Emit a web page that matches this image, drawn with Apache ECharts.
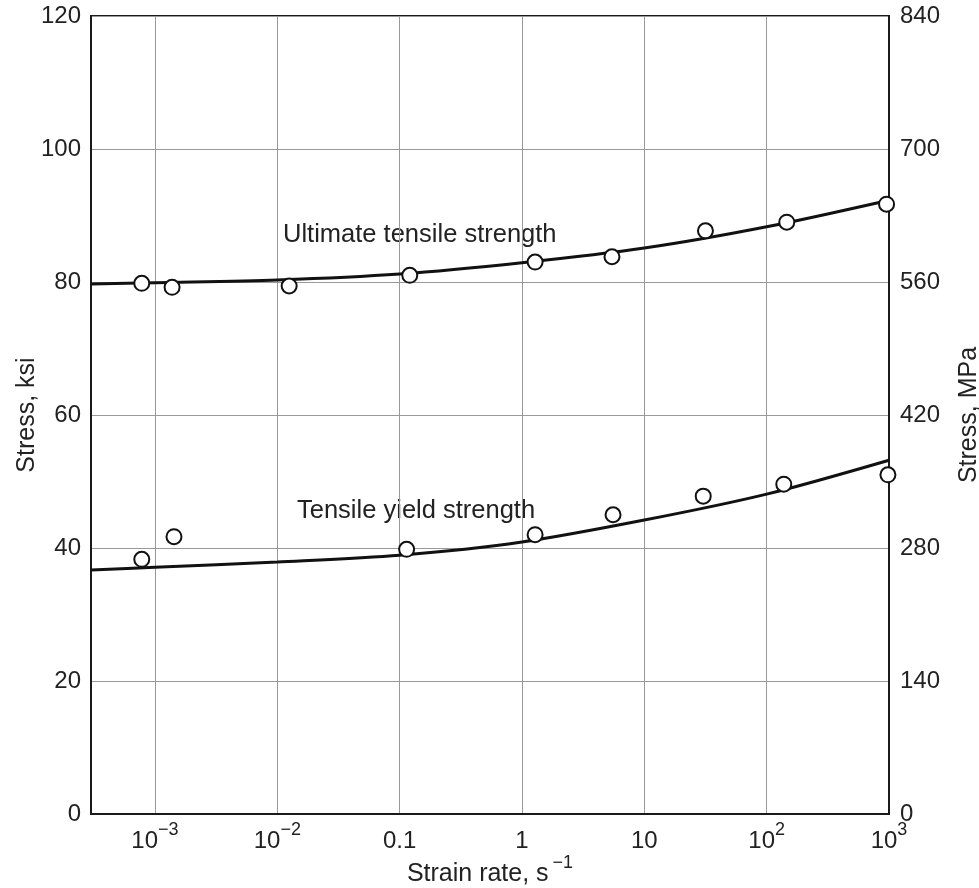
<!DOCTYPE html>
<html>
<head>
<meta charset="utf-8">
<script src="https://cdn.jsdelivr.net/npm/echarts@6/dist/echarts.min.js"></script>
<style>
html,body{margin:0;padding:0;background:#fff;}
#chart{width:979px;height:888px;}
</style>
</head>
<body>
<div id="chart"></div>
<script>
// Measured data points (strain rate in 1/s, stress in ksi)
const utsRate = [7.8e-4, 1.38e-3, 0.0125, 0.121, 1.28, 5.44, 31.6, 146, 955];
const utsStress = [79.8, 79.2, 79.4, 81.0, 83.0, 83.8, 87.7, 89.0, 91.7];
const ysRate = [7.8e-4, 1.43e-3, 0.114, 1.28, 5.55, 30.3, 138, 980];
const ysStress = [38.3, 41.7, 39.8, 42.0, 45.0, 47.8, 49.6, 51.0];

// Fitted curves
const fitRate = [3e-4, 1e-3, 1e-2, 0.1, 1, 10, 100, 1000];
const utsFit = [79.7, 79.9, 80.3, 81.2, 82.9, 85.1, 88.3, 92.3];
const ysFit = [36.7, 37.1, 37.9, 38.9, 40.9, 44.2, 48.1, 53.2];

// Axis ticks
const ksiTicks = [0, 20, 40, 60, 80, 100, 120];
const mpaTicks = [0, 140, 280, 420, 560, 700, 840];

const FONT = 'Liberation Sans, Arial, sans-serif';
const TXT = '#222';

function pairs(xs, ys) { return xs.map((x, i) => [x, ys[i]]); }

function xLabel(v) {
  const p = Math.round(Math.log10(v));
  if (p === -1) return '{b|0.1}';
  if (p === 0) return '{b|1}';
  if (p === 1) return '{b|10}';
  const sup = p < 0 ? '\u2212' + (-p) : String(p);
  return '{b|10}{s|' + sup + '}';
}

const chart = echarts.init(document.getElementById('chart'), null, {renderer: 'canvas'});
chart.setOption({
  animation: false,
  backgroundColor: '#fff',
  grid: {left: 91, right: 90, top: 16, bottom: 74, show: true, borderColor: '#1a1a1a', borderWidth: 2,
         backgroundColor: 'transparent', containLabel: false, outerBoundsMode: 'none'},
  xAxis: {
    type: 'log', logBase: 10, min: 3e-4, max: 1000,
    axisLine: {show: true, lineStyle: {color: '#1a1a1a', width: 2}},
    axisTick: {show: false},
    splitLine: {show: true, lineStyle: {color: '#999', width: 1}},
    axisLabel: {
      showMinLabel: false, margin: 7, fontFamily: FONT, color: TXT,
      formatter: xLabel,
      fontSize: 24,
      rich: {
        b: {fontSize: 24, fontFamily: FONT, color: TXT, verticalAlign: 'bottom', padding: [8, 0, 0, 0]},
        s: {fontSize: 18, fontFamily: FONT, color: TXT, verticalAlign: 'top', padding: [0, 0, 14, 0]}
      }
    },
    name: '{t|Strain rate, s}{s|\u22121}',
    nameLocation: 'middle', nameGap: 40, nameMoveOverlap: false,
    nameTextStyle: {
      rich: {
        t: {fontSize: 25, fontFamily: FONT, color: TXT, verticalAlign: 'bottom', padding: [8, 0, 0, 0]},
        s: {fontSize: 18, fontFamily: FONT, color: TXT, verticalAlign: 'top', padding: [0, 0, 15, 4]}
      }
    }
  },
  yAxis: [
    {
      type: 'value', min: ksiTicks[0], max: ksiTicks[ksiTicks.length - 1], interval: ksiTicks[1] - ksiTicks[0],
      position: 'left',
      axisLine: {show: true, lineStyle: {color: '#1a1a1a', width: 2}},
      axisTick: {show: false},
      splitLine: {show: true, lineStyle: {color: '#999', width: 1}},
      axisLabel: {fontSize: 24, fontFamily: FONT, color: TXT, margin: 10},
      name: 'Stress, ksi', nameLocation: 'middle', nameGap: 51, nameRotate: 90, nameMoveOverlap: false,
      nameTextStyle: {fontSize: 25, fontFamily: FONT, color: TXT}
    },
    {
      type: 'value', min: mpaTicks[0], max: mpaTicks[mpaTicks.length - 1], interval: mpaTicks[1] - mpaTicks[0],
      position: 'right',
      axisLine: {show: true, lineStyle: {color: '#1a1a1a', width: 2}},
      axisTick: {show: false},
      splitLine: {show: false},
      axisLabel: {fontSize: 24, fontFamily: FONT, color: TXT, margin: 11},
      name: 'Stress, MPa', nameLocation: 'middle', nameGap: 68, nameRotate: 90, nameMoveOverlap: false,
      nameTextStyle: {fontSize: 25, fontFamily: FONT, color: TXT}
    }
  ],
  series: [
    {type: 'line', name: 'UTS fit', data: pairs(fitRate, utsFit), smooth: 0.3, showSymbol: false,
     lineStyle: {color: '#111', width: 3}, z: 3},
    {type: 'line', name: 'YS fit', data: pairs(fitRate, ysFit), smooth: 0.3, showSymbol: false,
     lineStyle: {color: '#111', width: 3}, z: 3},
    {type: 'scatter', name: 'Ultimate tensile strength', data: pairs(utsRate, utsStress),
     symbol: 'circle', symbolSize: 15, itemStyle: {color: '#fff', borderColor: '#111', borderWidth: 2, opacity: 1}, z: 5},
    {type: 'scatter', name: 'Tensile yield strength', data: pairs(ysRate, ysStress),
     symbol: 'circle', symbolSize: 15, itemStyle: {color: '#fff', borderColor: '#111', borderWidth: 2, opacity: 1}, z: 5}
  ],
  graphic: [
    {type: 'text', left: 283, top: 222, style: {text: 'Ultimate tensile strength', font: '25.5px ' + FONT, fill: TXT}},
    {type: 'text', left: 297, top: 498, style: {text: 'Tensile yield strength', font: '25.5px ' + FONT, fill: TXT}}
  ]
});
</script>
</body>
</html>
